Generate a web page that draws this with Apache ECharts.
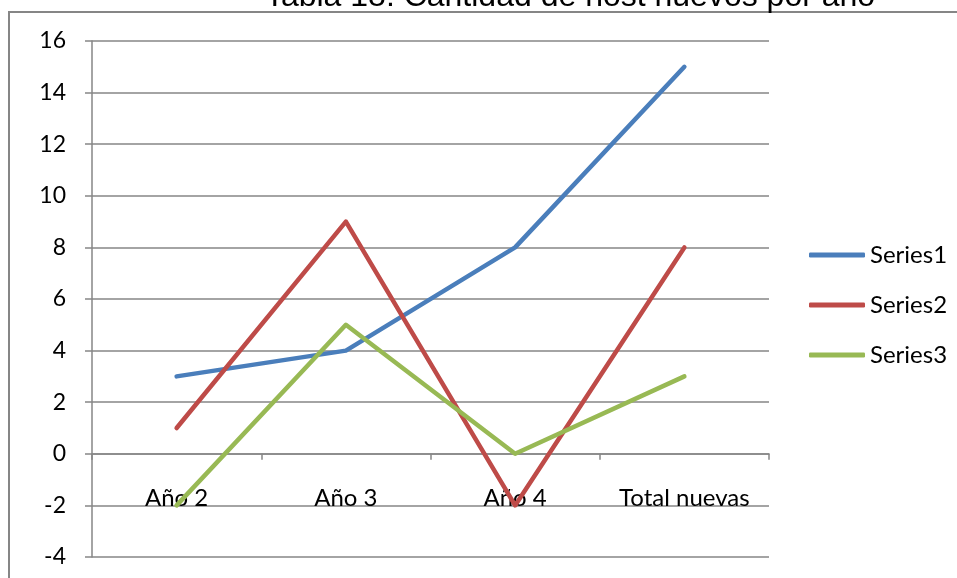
<!DOCTYPE html>
<html>
<head>
<meta charset="utf-8">
<script src="https://cdn.jsdelivr.net/npm/echarts@6/dist/echarts.min.js"></script>
<style>
html,body{margin:0;padding:0;background:#fff;}
#c{width:957px;height:578px;}
</style>
</head>
<body>
<div id="c"></div>
<script>
const titleText = 'Tabla 18: Cantidad de host nuevos por año';
const categories = ['Año 2', 'Año 3', 'Año 4', 'Total nuevas'];
const seriesNames = ['Series1', 'Series2', 'Series3'];
const series1 = [3, 4, 8, 15];
const series2 = [1, 9, -2, 8];
const series3 = [-2, 5, 0, 3];
const colors = ['#4A7EBB', '#BE4B48', '#98B954'];

const chart = echarts.init(document.getElementById('c'), null, {renderer: 'canvas'});
const lab = {fontFamily: 'Lato', fontSize: 24, color: '#000'};
const mk = (name, data, color) => ({
  name, type: 'line', data, symbol: 'none', color,
  lineStyle: {width: 4.5, color, cap: 'round', join: 'round'},
  animation: false
});
chart.setOption({
  animation: false,
  graphic: [
    {type: 'rect', shape: {x: 9, y: 12, width: 1000, height: 700},
     style: {fill: 'none', stroke: '#868686', lineWidth: 2}, z: 0},
    {type: 'text', x: 570, y: 13,
     style: {text: titleText, fontFamily: 'Liberation Sans', fontSize: 32, fill: '#000',
             textAlign: 'center', textVerticalAlign: 'bottom'}}
  ],
  grid: {left: 92, right: 188, top: 41, bottom: 21, containLabel: false, outerBoundsMode: 'none'},
  legend: {
    orient: 'vertical', left: 804, top: 238, itemWidth: 56, itemHeight: 5, itemGap: 26,
    icon: 'roundRect', textStyle: lab,
    data: seriesNames
  },
  xAxis: {
    type: 'category', data: categories, boundaryGap: true,
    axisLine: {onZero: true, lineStyle: {color: '#868686', width: 1.5}},
    axisTick: {show: true, interval: 0, alignWithLabel: false, length: 6, lineStyle: {color: '#868686', width: 1.5}},
    axisLabel: Object.assign({margin: -71, interval: 0, hideOverlap: false}, lab),
    splitLine: {show: false}
  },
  yAxis: {
    type: 'value', min: -4, max: 16, interval: 2,
    axisLine: {show: true, lineStyle: {color: '#868686', width: 1.5}},
    axisTick: {show: true, length: 7, lineStyle: {color: '#868686', width: 1.5}},
    axisLabel: Object.assign({margin: 26, align: 'right'}, lab, {fontSize: 23}),
    splitLine: {show: true, lineStyle: {color: '#868686', width: 1.5}}
  },
  series: [
    mk(seriesNames[0], series1, colors[0]),
    mk(seriesNames[1], series2, colors[1]),
    mk(seriesNames[2], series3, colors[2])
  ]
});
</script>
</body>
</html>
